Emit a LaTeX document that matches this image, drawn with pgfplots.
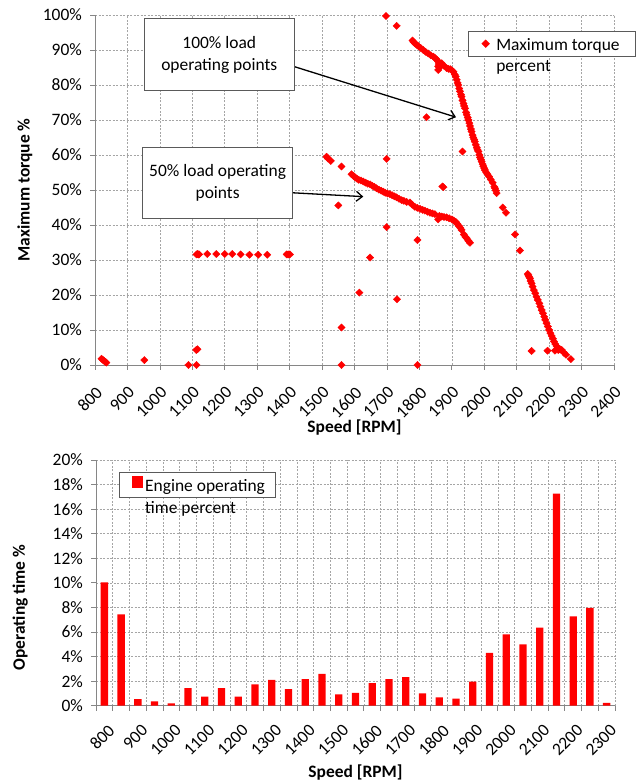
\documentclass[border=0pt]{standalone}
\usepackage{pgfplots}
\pgfplotsset{compat=1.18}
\usepackage{fontspec}
\setmainfont{Carlito}
\usetikzlibrary{arrows.meta}
\definecolor{axgray}{RGB}{134,134,134}
\definecolor{gridgray}{RGB}{165,165,165}
\definecolor{boxgray}{RGB}{90,90,90}
\newcommand{\fs}{\fontsize{17.5}{21.5}\selectfont}
\begin{document}
\begin{tikzpicture}[font=\fs]
\useasboundingbox (0,0) rectangle (639bp,784bp);
\pgfplotsset{
  common/.style={
    scale only axis,
    axis lines*=left,
    axis line style={axgray, line width=0.75bp},
    tick style={axgray, line width=0.75bp},
    tick align=outside,
    major tick length=5bp,
    minor tick length=5bp,
    grid style={gridgray, dash pattern=on 2bp off 1.5bp, line width=0.6bp},
    /pgf/number format/assume math mode=true,
    ticklabel style={font=\fs},
    label style={font=\bfseries\fs},
    xticklabel style={rotate=45, anchor=north east, inner sep=1bp, /pgf/number format/1000 sep={}},
    xticklabel shift=14bp,
    yticklabel style={inner sep=2bp, xshift=-6bp},
    legend style={draw=boxgray, line width=0.75bp, font=\fs, legend cell align=left, inner ysep=2bp},
    clip=false,
  }
}
% ---------------- top chart ----------------
\begin{axis}[common, at={(95bp,419bp)}, anchor=south west, width=519bp, height=350bp,
  xmin=800, xmax=2400, ymin=0, ymax=100,
  xtick={800,900,...,2400}, ytick={0,10,...,100},
  grid=major,
  yticklabel={\pgfmathprintnumber{\tick}\%},
  xlabel={Speed [RPM]}, ylabel={Maximum torque \%},
  xlabel style={at={(axis description cs:0.5,-0.18)}, anchor=center},
  ylabel style={at={(axis description cs:-0.135,0.5)}, anchor=center},
  legend style={at={(0.718,0.954)}, anchor=north west, inner xsep=14bp, column sep=5bp},
]
\addplot[only marks, red, mark=diamond*, mark size=3.6bp, mark options={xscale=1.35, draw=red, fill=red}] coordinates {
(820,1.8) (824,1.5) (828,1.2) (832,0.9) (835,0.7)
(952,1.4) (1088,0) (1113,0) (1112,4.3) (1116,4.5)
(1113,31.6) (1116,31.7) (1119,31.6) (1121,31.6) (1146,31.7) (1174,31.7) (1200,31.7) (1223,31.7)
(1249,31.6) (1276,31.5) (1303,31.5) (1331,31.5) (1391,31.6) (1395,31.6) (1398,31.6) (1401,31.6)
(1514,59.5) (1518,59.0) (1527,58.3) (1560,56.7)
(1591,54.5) (1597,54.0) (1602,53.6) (1607,53.3) (1613,52.9) (1620,52.7) (1627,52.4) (1634,52.1)
(1641,51.8) (1648,51.6) (1655,51.2) (1661,50.9) (1668,50.5) (1675,50.1) (1682,49.8) (1689,49.5)
(1695,49.2) (1702,49.0) (1709,48.8) (1716,48.5) (1723,48.2) (1730,47.9) (1737,47.5) (1745,47.1)
(1752,46.9) (1761,46.6) (1771,46.4) (1778,45.8) (1786,45.2) (1794,44.9) (1802,44.6) (1810,44.3)
(1817,44.1) (1825,43.8) (1833,43.5) (1840,43.3) (1848,43.1) (1858,41.6) (1862,42.6) (1869,42.4)
(1876,42.3) (1884,42.2) (1892,41.9) (1900,41.6) (1906,41.3) (1912,40.9) (1917,40.3) (1922,39.7)
(1926,39.2) (1930,38.6) (1937,37.3) (1942,36.6) (1946,36.2) (1951,35.5) (1956,34.9)
(1697,99.7) (1730,96.9)
(1779,92.7) (1782,92.3) (1786,91.9) (1791,91.5) (1797,91.1) (1804,90.6) (1812,90.0) (1819,89.5)
(1827,89.0) (1835,88.5) (1843,88.1) (1848,87.7) (1853,87.3) (1858,86.7) (1860,86.0) (1858,85.3)
(1858,84.3) (1862,85.0) (1864,85.6) (1869,86.2) (1876,85.5) (1884,84.8) (1890,84.6) (1896,84.5)
(1901,84.1) (1905,83.8) (1909,83.0) (1912,82.4) (1915,81.5) (1918,80.6) (1920,80.0) (1923,79.0)
(1925,78.2) (1928,77.3) (1930,76.7) (1933,75.6) (1936,74.7) (1938,74.0) (1941,73.3) (1944,72.2)
(1946,71.5) (1949,70.7) (1951,70.0) (1954,69.1) (1956,68.3) (1959,67.4) (1961,66.7) (1964,65.7)
(1966,65.0) (1969,64.4) (1971,63.8) (1974,62.9) (1977,62.1) (1979,61.5) (1982,61.0) (1985,60.0)
(1987,59.3) (1990,58.7) (1992,58.1) (1995,57.4) (1997,56.8) (2000,56.2) (2002,55.7) (2006,55.0)
(2010,54.5) (2015,53.8) (2020,53.0) (2026,52.1) (2031,50.9) (2033,50.5) (2036,49.8) (2038,49.1)
(2057,45.0) (2067,43.5) (2095,37.3) (2110,32.7)
(2134,26.0) (2136,25.7) (2138,25.2) (2141,24.8) (2143,24.0) (2146,23.3) (2149,22.4) (2153,21.4)
(2157,20.5) (2161,19.5) (2165,18.6) (2170,17.6) (2173,16.7) (2177,15.7) (2181,14.8) (2185,13.8)
(2188,12.9) (2192,11.9) (2196,11.0) (2200,10.0) (2204,9.1) (2208,8.3) (2212,7.5) (2215,6.7)
(2219,6.0) (2223,5.4) (2227,4.9) (2232,4.5) (2235,4.4) (2239,4.3) (2245,3.6) (2252,2.9) (2267,1.7)
(2146,4.0) (2195,4.1) (2218,4.1) (2228,4.3)
(1822,70.8) (1933,61.0) (1699,58.9) (1550,45.6) (1560,10.7) (1560,0) (1615,20.7) (1648,30.7)
(1699,39.4) (1731,18.8) (1794,35.7) (1794,0) (1874,50.8) (1871,51.0)
};
\addlegendentry{\begin{tabular}[t]{@{}l@{}}Maximum torque\\percent\end{tabular}}
\draw[black, line width=1.3bp, -{Straight Barb[length=6bp,width=10bp]}] (axis cs:1416,85.2) -- (axis cs:1913,70.8);
\draw[black, line width=1.3bp, -{Straight Barb[length=6bp,width=10bp]}] (axis cs:1410,49.2) -- (axis cs:1627,48.1);
\draw[draw=boxgray, fill=white, line width=0.75bp] (axis cs:952,98.9) rectangle (axis cs:1414.5,78.4);
\node[align=center, font=\fs] at (axis cs:1183,88.6) {100\% load\\operating points};
\draw[draw=boxgray, fill=white, line width=0.75bp] (axis cs:947,62.3) rectangle (axis cs:1409,41.9);
\node[align=center, font=\fs] at (axis cs:1178,52.1) {50\% load operating\\points};
\end{axis}
% ---------------- bottom chart ----------------
\begin{axis}[common, at={(96bp,78.3bp)}, anchor=south west, width=519bp, height=245.7bp,
  xmin=-0.5, xmax=30.5, ymin=0, ymax=20,
  ytick={0,2,...,20}, ymajorgrids,
  xtick={-0.5,0.5,...,30.5}, xticklabels={}, xmajorgrids,
  extra x ticks={0,2,...,30},
  extra x tick labels={800,900,1000,1100,1200,1300,1400,1500,1600,1700,1800,1900,2000,2100,2200,2300},
  extra x tick style={grid=none, tick style={draw=none}, xticklabel style={xshift=4bp}},
  yticklabel={\pgfmathprintnumber{\tick}\%},
  xlabel={Speed [RPM]}, ylabel={Operating time \%},
  xlabel style={at={(axis description cs:0.5,-0.273)}, anchor=center},
  ylabel style={at={(axis description cs:-0.146,0.40)}, anchor=center},
  legend style={at={(0.045,0.95)}, anchor=north west, inner xsep=8bp},
  ybar, bar width=7.3bp,
  legend image code/.code={\path (0bp,0bp); \fill[red] (4bp,-3bp) rectangle (15.5bp,8.5bp);},
]
\addplot[fill=red, draw=none] coordinates {
(0,10.03) (1,7.43) (2,0.54) (3,0.35) (4,0.19) (5,1.43) (6,0.73) (7,1.43) (8,0.73) (9,1.73)
(10,2.10) (11,1.35) (12,2.16) (13,2.59) (14,0.92) (15,1.05) (16,1.84) (17,2.16) (18,2.32) (19,1.00)
(20,0.68) (21,0.57) (22,1.95) (23,4.30) (24,5.81) (25,5.00) (26,6.35) (27,17.27) (28,7.27) (29,7.97)
(30,0.22)
};
\addlegendentry{\begin{tabular}[t]{@{}l@{}}Engine operating\\time percent\end{tabular}}
\end{axis}
\end{tikzpicture}
\end{document}
